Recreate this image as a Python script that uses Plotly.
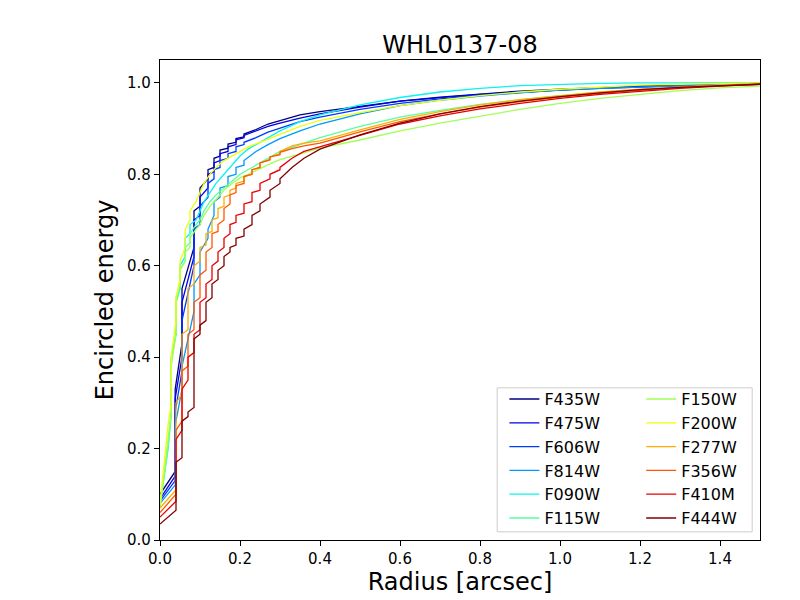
import plotly.graph_objects as go

# Radii (arcsec) at which the encircled energy was sampled
r_hst = [0.0, 0.038, 0.038, 0.055, 0.055, 0.085, 0.085, 0.1, 0.1, 0.12, 0.12, 0.135, 0.135,
         0.15, 0.15, 0.17, 0.17, 0.19, 0.19, 0.21, 0.21, 0.24, 0.27, 0.3, 0.35, 0.4, 0.5,
         0.6, 0.7, 0.8, 0.9, 1.0, 1.1, 1.2, 1.3, 1.4, 1.5]
r_sw = [0.0, 0.02, 0.028, 0.028, 0.04, 0.04, 0.05, 0.05, 0.063, 0.063, 0.075, 0.075,
        0.09, 0.1, 0.11, 0.125, 0.14, 0.16, 0.18, 0.2, 0.22, 0.25, 0.28, 0.3, 0.35, 0.4,
        0.5, 0.6, 0.7, 0.8, 0.9, 1.0, 1.1, 1.2, 1.3, 1.4, 1.5]
r_lw = [0.0, 0.04, 0.04, 0.055, 0.055, 0.07, 0.07, 0.085, 0.085, 0.1, 0.1, 0.115, 0.115,
        0.13, 0.13, 0.145, 0.145, 0.16, 0.16, 0.175, 0.175, 0.19, 0.19, 0.21, 0.21,
        0.23, 0.23, 0.25, 0.25, 0.275, 0.275, 0.3, 0.3, 0.33, 0.36, 0.4, 0.5, 0.6, 0.7,
        0.8, 0.9, 1.0, 1.1, 1.2, 1.3, 1.4, 1.5]

# Encircled energy per filter
ee_f435w = [0.10, 0.15, 0.33, 0.43, 0.55, 0.64, 0.72, 0.73, 0.77, 0.79, 0.81, 0.815, 0.835,
            0.84, 0.853, 0.857, 0.866, 0.87, 0.878, 0.882, 0.888, 0.898, 0.91, 0.918, 0.93,
            0.937, 0.948, 0.96, 0.969, 0.976, 0.982, 0.986, 0.99, 0.993, 0.995, 0.997, 0.999]
ee_f475w = [0.09, 0.14, 0.31, 0.40, 0.52, 0.62, 0.70, 0.71, 0.75, 0.77, 0.80, 0.805, 0.825,
            0.83, 0.845, 0.85, 0.86, 0.865, 0.875, 0.88, 0.885, 0.895, 0.905, 0.912, 0.923,
            0.932, 0.947, 0.96, 0.968, 0.975, 0.98, 0.985, 0.989, 0.992, 0.995, 0.997, 0.999]
ee_f606w = [0.085, 0.13, 0.28, 0.37, 0.48, 0.60, 0.68, 0.69, 0.73, 0.75, 0.78, 0.79, 0.81,
            0.815, 0.83, 0.835, 0.845, 0.85, 0.86, 0.865, 0.87, 0.88, 0.892, 0.90, 0.915,
            0.925, 0.942, 0.955, 0.965, 0.973, 0.979, 0.984, 0.988, 0.991, 0.994, 0.997, 0.999]
ee_f814w = [0.08, 0.12, 0.25, 0.33, 0.38, 0.50, 0.56, 0.58, 0.63, 0.66, 0.68, 0.71, 0.74,
            0.75, 0.77, 0.775, 0.795, 0.80, 0.815, 0.82, 0.83, 0.85, 0.865, 0.878, 0.895,
            0.91, 0.932, 0.95, 0.962, 0.971, 0.978, 0.984, 0.988, 0.991, 0.994, 0.997, 0.999]
ee_f090w = [0.08, 0.2, 0.28, 0.40, 0.45, 0.52, 0.55, 0.60, 0.62, 0.66, 0.67, 0.69, 0.70,
            0.72, 0.74, 0.76, 0.78, 0.80, 0.82, 0.84, 0.855, 0.87, 0.885, 0.895, 0.915, 0.93,
            0.952, 0.968, 0.98, 0.988, 0.994, 0.997, 0.999, 1.0, 1.0, 1.0, 1.0]
ee_f115w = [0.07, 0.2, 0.27, 0.39, 0.45, 0.52, 0.55, 0.59, 0.61, 0.64, 0.65, 0.67, 0.69,
            0.70, 0.72, 0.74, 0.755, 0.77, 0.785, 0.80, 0.81, 0.825, 0.84, 0.85, 0.865, 0.88,
            0.905, 0.925, 0.94, 0.953, 0.963, 0.972, 0.979, 0.985, 0.99, 0.995, 0.998]
ee_f150w = [0.07, 0.22, 0.28, 0.38, 0.45, 0.53, 0.56, 0.59, 0.61, 0.63, 0.64, 0.66, 0.68,
            0.69, 0.71, 0.73, 0.745, 0.765, 0.78, 0.792, 0.80, 0.813, 0.825, 0.832, 0.845,
            0.857, 0.875, 0.895, 0.912, 0.927, 0.942, 0.955, 0.966, 0.975, 0.983, 0.989, 0.993]
ee_f200w = [0.08, 0.25, 0.30, 0.40, 0.48, 0.53, 0.57, 0.61, 0.64, 0.68, 0.70, 0.72, 0.74,
            0.76, 0.78, 0.80, 0.815, 0.83, 0.84, 0.85, 0.86, 0.87, 0.88, 0.888, 0.905, 0.918,
            0.935, 0.95, 0.962, 0.972, 0.98, 0.986, 0.991, 0.995, 0.997, 0.999, 1.0]
ee_f277w = [0.07, 0.11, 0.30, 0.32, 0.45, 0.46, 0.55, 0.56, 0.60, 0.61, 0.64, 0.645, 0.67,
            0.675, 0.70, 0.705, 0.725, 0.73, 0.75, 0.755, 0.765, 0.77, 0.78, 0.785, 0.795,
            0.80, 0.81, 0.815, 0.825, 0.832, 0.838, 0.845, 0.85, 0.862, 0.868, 0.873, 0.897,
            0.92, 0.937, 0.952, 0.963, 0.972, 0.98, 0.986, 0.991, 0.995, 0.998]
ee_f356w = [0.06, 0.10, 0.24, 0.26, 0.37, 0.38, 0.45, 0.46, 0.52, 0.53, 0.58, 0.59, 0.63,
            0.64, 0.67, 0.675, 0.69, 0.70, 0.725, 0.735, 0.755, 0.76, 0.775, 0.78, 0.795,
            0.80, 0.81, 0.815, 0.825, 0.832, 0.838, 0.843, 0.848, 0.856, 0.862, 0.868, 0.893,
            0.915, 0.932, 0.947, 0.959, 0.969, 0.977, 0.984, 0.99, 0.994, 0.997]
ee_f410m = [0.05, 0.085, 0.22, 0.24, 0.33, 0.35, 0.40, 0.41, 0.45, 0.46, 0.52, 0.53, 0.56,
            0.57, 0.60, 0.61, 0.63, 0.64, 0.66, 0.67, 0.69, 0.695, 0.71, 0.715, 0.735, 0.74,
            0.76, 0.765, 0.78, 0.79, 0.80, 0.81, 0.815, 0.835, 0.85, 0.86, 0.886, 0.91, 0.928,
            0.943, 0.955, 0.966, 0.975, 0.982, 0.988, 0.993, 0.997]
ee_f444w = [0.035, 0.065, 0.17, 0.18, 0.26, 0.27, 0.28, 0.29, 0.44, 0.45, 0.47, 0.48, 0.52,
            0.53, 0.56, 0.57, 0.59, 0.60, 0.62, 0.63, 0.64, 0.645, 0.66, 0.665, 0.68, 0.69,
            0.71, 0.72, 0.735, 0.75, 0.765, 0.78, 0.79, 0.815, 0.835, 0.855, 0.886, 0.912,
            0.932, 0.948, 0.96, 0.97, 0.978, 0.985, 0.99, 0.994, 0.997]

filters = ["F435W", "F475W", "F606W", "F814W", "F090W", "F115W",
           "F150W", "F200W", "F277W", "F356W", "F410M", "F444W"]
radii = [r_hst] * 4 + [r_sw] * 4 + [r_lw] * 4
curves = [ee_f435w, ee_f475w, ee_f606w, ee_f814w, ee_f090w, ee_f115w,
          ee_f150w, ee_f200w, ee_f277w, ee_f356w, ee_f410m, ee_f444w]
# jet colormap sampled at 12 points
colors = ["#000080", "#0000e9", "#003aff", "#0097ff", "#0bf3ec", "#56ffa1",
          "#a1ff56", "#ecff0b", "#ffad00", "#ff5700", "#e80000", "#800000"]

font = "DejaVu Sans, Liberation Sans, sans-serif"

fig = go.Figure()
for i, (name, r, ee, c) in enumerate(zip(filters, radii, curves, colors)):
    fig.add_trace(go.Scatter(
        x=r, y=ee, mode="lines", name=name,
        line=dict(color=c, width=1.3),
        legend="legend" if i < 6 else "legend2",
    ))

# legend frame (matplotlib style box behind the two legend columns)
fig.add_shape(type="rect", xref="paper", yref="paper",
              x0=0.562, x1=0.987, y0=0.017, y1=0.317, layer="above",
              fillcolor="rgba(255,255,255,0.8)", line=dict(color="#cccccc", width=1))

leg = dict(font=dict(family=font, size=16, color="black"), bgcolor="rgba(0,0,0,0)",
           yanchor="top", xanchor="left", y=0.329, itemwidth=30, tracegroupgap=0)

# page body has an 8px margin, so the figure is a bit smaller than the window
fig.update_layout(
    width=792, height=592,
    margin=dict(l=152, r=40, t=52, b=60),
    paper_bgcolor="white", plot_bgcolor="white",
    font=dict(family=font, color="black"),
    title=dict(text="WHL0137-08", x=0.5, xref="paper", xanchor="center",
               y=0.939, yanchor="middle",
               font=dict(family=font, size=24, color="black")),
    legend=dict(leg, x=0.574),
    legend2=dict(leg, x=0.802),
    xaxis=dict(range=[0, 1.5], dtick=0.2, tick0=0, tickformat=".1f",
               showline=True, mirror=True, linecolor="black", linewidth=1.2,
               ticks="outside", ticklen=5, tickwidth=1, tickcolor="black",
               showgrid=False, zeroline=False, automargin=False,
               tickfont=dict(size=15),
               title=dict(text="Radius [arcsec]", font=dict(size=24), standoff=6)),
    yaxis=dict(range=[0, 1.05], dtick=0.2, tick0=0, tickformat=".1f",
               showline=True, mirror=True, linecolor="black", linewidth=1.2,
               ticks="outside", ticklen=5, tickwidth=1, tickcolor="black",
               showgrid=False, zeroline=False, automargin=False,
               tickfont=dict(size=15),
               title=dict(text="Encircled energy", font=dict(size=24), standoff=6)),
)

fig.write_html("out.html")
